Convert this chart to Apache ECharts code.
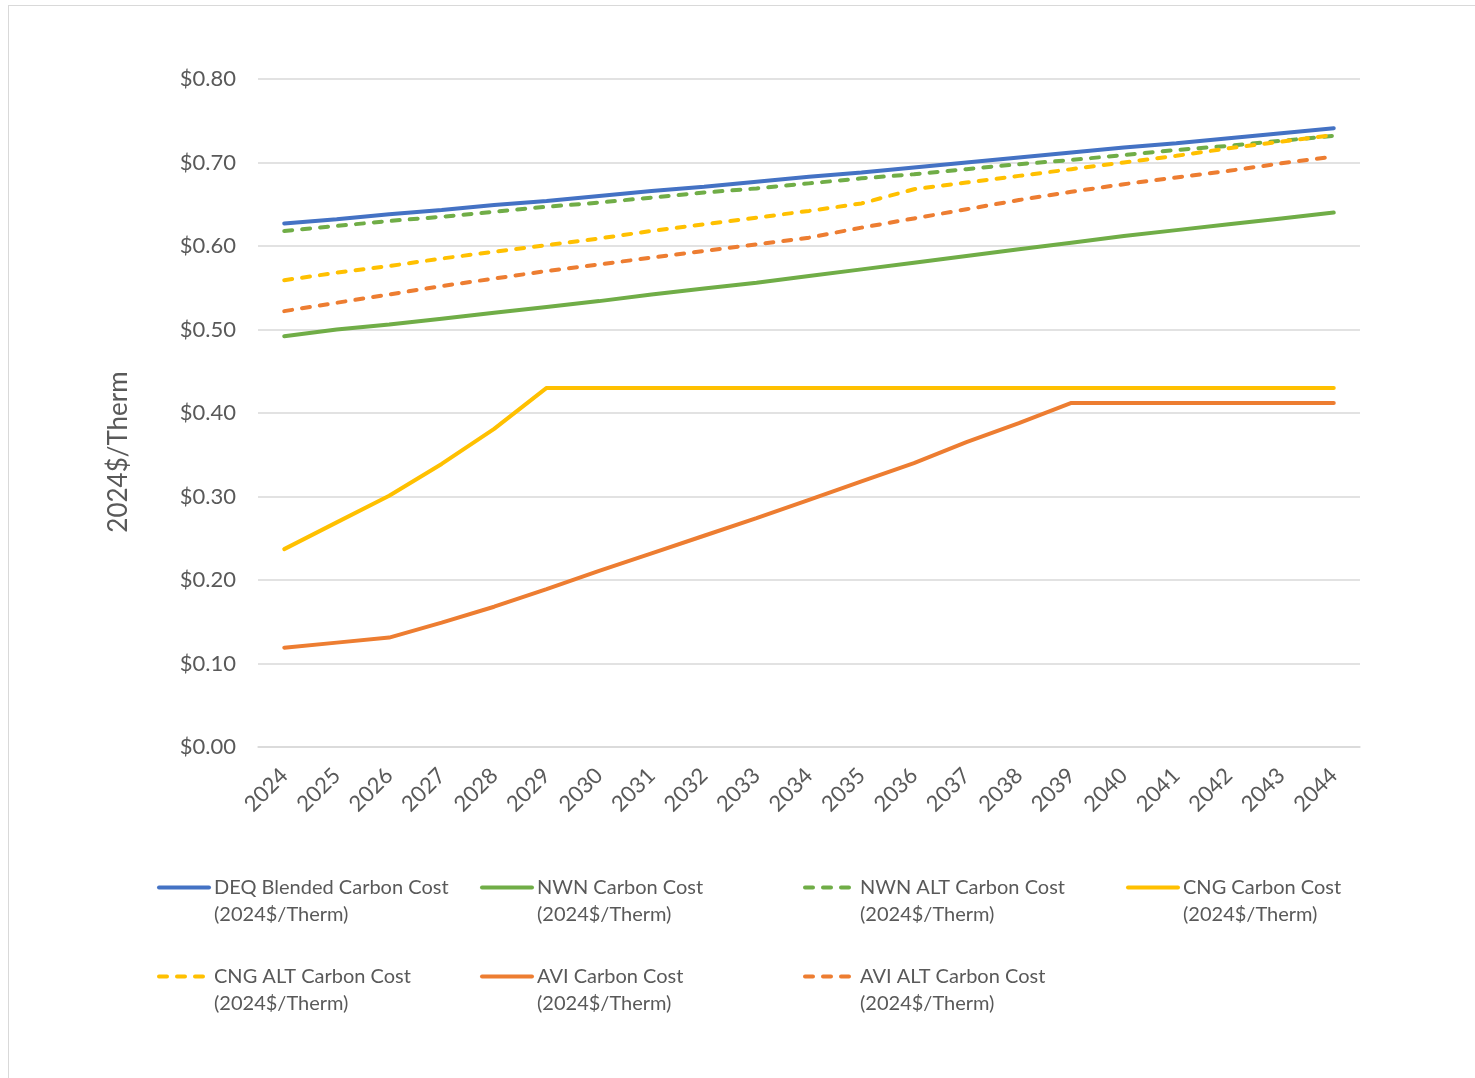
<!DOCTYPE html>
<html>
<head>
<meta charset="utf-8">
<script src="https://cdn.jsdelivr.net/npm/echarts@6/dist/echarts.min.js"></script>
<style>
  html, body { margin: 0; padding: 0; background: #fff; }
  #frame { position: absolute; left: 8px; top: 5px; width: 1475px; height: 1078px; border: 1px solid #d9d9d9; box-sizing: border-box; }
  #chart { position: absolute; left: 0; top: 0; width: 1475px; height: 1078px; }
</style>
</head>
<body>
<div id="frame"></div>
<div id="chart"></div>
<script>
var years = ['2024', '2025', '2026', '2027', '2028', '2029', '2030', '2031', '2032', '2033', '2034',
  '2035', '2036', '2037', '2038', '2039', '2040', '2041', '2042', '2043', '2044']

var deqBlended = [0.627, 0.632, 0.638, 0.643, 0.649, 0.654, 0.660, 0.666, 0.671, 0.677, 0.683,
  0.688, 0.694, 0.700, 0.706, 0.712, 0.718, 0.723, 0.729, 0.735, 0.741]
var nwn = [0.492, 0.500, 0.506, 0.513, 0.520, 0.527, 0.534, 0.542, 0.549, 0.556, 0.564,
  0.572, 0.580, 0.588, 0.596, 0.604, 0.612, 0.619, 0.626, 0.633, 0.640]
var nwnAlt = [0.618, 0.624, 0.630, 0.635, 0.641, 0.647, 0.652, 0.658, 0.664, 0.669, 0.675,
  0.681, 0.686, 0.692, 0.698, 0.703, 0.709, 0.715, 0.720, 0.726, 0.732]
var cng = [0.237, 0.269, 0.301, 0.339, 0.381, 0.430, 0.430, 0.430, 0.430, 0.430, 0.430,
  0.430, 0.430, 0.430, 0.430, 0.430, 0.430, 0.430, 0.430, 0.430, 0.430]
var cngAlt = [0.559, 0.568, 0.576, 0.585, 0.593, 0.601, 0.609, 0.618, 0.626, 0.634, 0.642,
  0.651, 0.668, 0.676, 0.684, 0.692, 0.700, 0.708, 0.717, 0.725, 0.733]
var avi = [0.119, 0.125, 0.131, 0.149, 0.168, 0.189, 0.211, 0.232, 0.253, 0.274, 0.296,
  0.318, 0.340, 0.365, 0.388, 0.412, 0.412, 0.412, 0.412, 0.412, 0.412]
var aviAlt = [0.522, 0.532, 0.542, 0.552, 0.561, 0.570, 0.578, 0.586, 0.594, 0.602, 0.610,
  0.622, 0.633, 0.644, 0.655, 0.665, 0.674, 0.682, 0.690, 0.699, 0.707]

var unit = '\n(2024$/Therm)'
var seriesDefs = [
  { name: 'DEQ Blended Carbon Cost' + unit, data: deqBlended, color: '#4472C4', dashed: false, left: 157, top: 847 },
  { name: 'NWN Carbon Cost' + unit, data: nwn, color: '#70AD47', dashed: false, left: 480, top: 847 },
  { name: 'NWN ALT Carbon Cost' + unit, data: nwnAlt, color: '#70AD47', dashed: true, left: 803, top: 847 },
  { name: 'CNG Carbon Cost' + unit, data: cng, color: '#FFC000', dashed: false, left: 1126, top: 847 },
  { name: 'CNG ALT Carbon Cost' + unit, data: cngAlt, color: '#FFC000', dashed: true, left: 157, top: 936 },
  { name: 'AVI Carbon Cost' + unit, data: avi, color: '#ED7D31', dashed: false, left: 480, top: 936 },
  { name: 'AVI ALT Carbon Cost' + unit, data: aviAlt, color: '#ED7D31', dashed: true, left: 803, top: 936 }
]

var font = 'Lato, "Open Sans", sans-serif'
var grey = '#595959'
var dash = [8, 10]

var chart = echarts.init(document.getElementById('chart'))
var option = {
  animation: false,
  textStyle: { fontFamily: font },
  grid: { left: 258, right: 115, top: 79, bottom: 331, containLabel: false },
  legend: seriesDefs.map(function (s) {
    return {
      data: [s.name],
      left: s.left,
      top: s.top,
      orient: 'horizontal',
      itemWidth: 50,
      itemHeight: 12,
      itemGap: 4,
      padding: 0,
      selectedMode: false,
      itemStyle: { opacity: 0 },
      lineStyle: { width: 4, type: s.dashed ? dash : 'solid', cap: 'round' },
      // blank first line keeps the icon level with the first text line
      formatter: function (name) { return '\n' + name },
      textStyle: { fontFamily: font, fontSize: 20, color: grey, lineHeight: 27 }
    }
  }),
  xAxis: {
    type: 'category',
    data: years,
    boundaryGap: true,
    axisLine: { show: true, lineStyle: { color: '#d9d9d9', width: 1.5 } },
    axisTick: { show: false },
    axisLabel: { rotate: 45, interval: 0, fontSize: 22, color: grey, fontFamily: font, margin: 25 }
  },
  yAxis: {
    type: 'value',
    min: 0,
    max: 0.8,
    interval: 0.1,
    name: '2024$/Therm',
    nameLocation: 'middle',
    nameGap: 126,
    nameTextStyle: { fontSize: 26, color: grey, fontFamily: font, padding: [0, 78, 0, 0] },
    axisLine: { show: false },
    axisTick: { show: false },
    splitLine: { lineStyle: { color: '#d9d9d9', width: 1.5 } },
    axisLabel: {
      fontSize: 22, color: grey, fontFamily: font, margin: 22,
      formatter: function (v) { return '$' + v.toFixed(2) }
    }
  },
  series: seriesDefs.map(function (s) {
    return {
      name: s.name,
      type: 'line',
      data: s.data,
      symbol: 'none',
      color: s.color,
      lineStyle: {
        color: s.color,
        width: 4,
        type: s.dashed ? dash : 'solid',
        cap: 'round'
      }
    }
  })
}
chart.setOption(option)
</script>
</body>
</html>
